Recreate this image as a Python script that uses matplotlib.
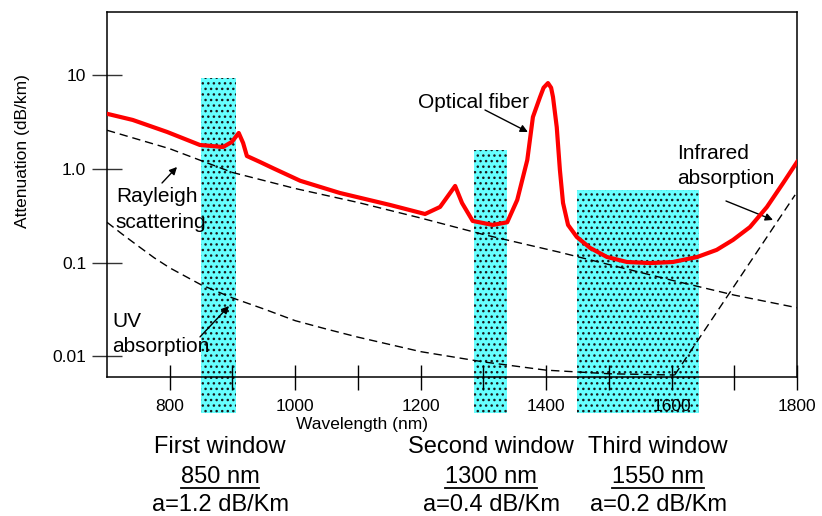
import numpy as np
import matplotlib
matplotlib.use('Agg')
import matplotlib.pyplot as plt
from matplotlib.lines import Line2D

plt.rcParams['font.family'] = ['Liberation Sans', 'DejaVu Sans']
plt.rcParams['hatch.linewidth'] = 1.0

# attenuation of the fibre (dB/km)
fiber_wl = [700, 741, 796, 848, 885, 899, 910, 917, 923, 944, 965, 1008, 1071,
            1151, 1207, 1231, 1255, 1266, 1283, 1315, 1338, 1354, 1370, 1379,
            1390, 1396, 1403, 1408, 1411, 1417, 1422, 1427, 1435, 1449, 1470,
            1497, 1529, 1566, 1602, 1641, 1672, 1698, 1725, 1752, 1778, 1800]
fiber_att = [3.9, 3.35, 2.49, 1.81, 1.72, 1.95, 2.43, 1.9, 1.38, 1.19, 1.02,
             0.75, 0.556, 0.414, 0.331, 0.394, 0.66, 0.434, 0.279, 0.253, 0.27,
             0.468, 1.25, 3.6, 5.8, 7.4, 8.3, 7.4, 5.9, 2.8, 0.98, 0.435, 0.253,
             0.188, 0.144, 0.115, 0.1016, 0.099, 0.1016, 0.115, 0.137, 0.175,
             0.24, 0.393, 0.711, 1.19]

rayleigh_wl = [700, 800, 900, 1000, 1100, 1200, 1300, 1420, 1600, 1700, 1800]
rayleigh_att = [2.6, 1.65, 0.92, 0.62, 0.44, 0.30, 0.20, 0.13, 0.065, 0.045, 0.033]

uv_wl = [700, 725, 750, 775, 800, 850, 900, 950, 1000, 1050, 1100, 1200, 1300,
         1400, 1500, 1605]
uv_att = [0.27, 0.2, 0.15, 0.113, 0.088, 0.058, 0.042, 0.032, 0.024, 0.0195,
          0.016, 0.0112, 0.0087, 0.0071, 0.0065, 0.0063]

ir_wl = [1605, 1797]
ir_att = [0.0063, 0.53]

# transmission windows
win_start = np.array([850, 1285, 1450])
win_end = np.array([905, 1338, 1643])
win_top = np.array([9.5, 1.6, 0.6])
win_bottom = 0.0025

win_names = ['First window', 'Second window', 'Third window']
win_nm = ['850 nm', '1300 nm', '1550 nm']
win_loss = ['a=1.2 dB/Km', 'a=0.4 dB/Km', 'a=0.2 dB/Km']
win_text_x = [220, 491, 658]

W, H = 822, 516
fig = plt.figure(figsize=(W / 100, H / 100), dpi=100)
ax = fig.add_axes([107 / W, 1 - 377 / H, 690 / W, 365 / H])

ax.bar(win_start, win_top - win_bottom, width=win_end - win_start,
       bottom=win_bottom, align='edge', color='#66FFFF', hatch='...',
       edgecolor='#1a1a1a', linewidth=0, clip_on=False, zorder=1)

ax.plot(rayleigh_wl, rayleigh_att, color='k', lw=1, dashes=(6, 3.5), zorder=3)
ax.plot(uv_wl, uv_att, color='k', lw=1, dashes=(6, 3.5), zorder=3)
ax.plot(ir_wl, ir_att, color='k', lw=1, dashes=(6, 3.5), zorder=3)
ax.plot(fiber_wl, fiber_att, color='#FF0000', lw=3, zorder=4,
        solid_joinstyle='round')

ax.set_yscale('log')
ax.set_xlim(700, 1800)
ax.set_ylim(0.006, 47.7)

ax.set_xticks(range(800, 1801, 100))
ax.set_xticklabels(['800', '', '1000', '', '1200', '', '1400', '', '1600', '', '1800'])
ax.set_yticks([0.01, 0.1, 1, 10])
ax.set_yticklabels(['0.01', '0.1', '1.0', '10'])
ax.minorticks_off()
ax.tick_params(axis='x', direction='inout', length=18, width=1, pad=6.5,
               labelsize=12.5, color='k')
ax.tick_params(axis='y', direction='inout', length=22, width=1, pad=4,
               labelsize=12.5, color='#333333')
for sp in ax.spines.values():
    sp.set_linewidth(1.1)

# labels on the curves
fs = 15
ax.text(714, 0.445, 'Rayleigh', fontsize=fs, va='baseline', zorder=5)
ax.text(714, 0.235, 'scattering', fontsize=fs, va='baseline', zorder=5)
ax.text(708, 0.0206, 'UV', fontsize=fs, va='baseline', zorder=5)
ax.text(708, 0.0111, 'absorption', fontsize=fs, va='baseline', zorder=5)
ax.text(1196, 4.5, 'Optical fiber', fontsize=fs, va='baseline', zorder=5)
ax.text(1609, 1.28, 'Infrared', fontsize=fs, va='baseline', zorder=5)
ax.text(1609, 0.693, 'absorption', fontsize=fs, va='baseline', zorder=5)

arrow = dict(arrowstyle='-|>', color='k', lw=1, mutation_scale=11,
             shrinkA=0, shrinkB=0)
ax.annotate('', xy=(811.6, 1.053), xytext=(787.7, 0.71), arrowprops=arrow)
ax.annotate('', xy=(894.5, 0.0344), xytext=(848.3, 0.0161), arrowprops=arrow)
ax.annotate('', xy=(1371, 2.49), xytext=(1302.6, 4.28), arrowprops=arrow)
ax.annotate('', xy=(1761.7, 0.286), xytext=(1686.8, 0.456), arrowprops=arrow)

fig.text(22 / W, 1 - 151 / H, 'Attenuation (dB/km)', rotation=90,
         fontsize=12.5, ha='center', va='center')
fig.text(362 / W, 1 - 424 / H, 'Wavelength (nm)', fontsize=12.5,
         ha='center', va='center')

renderer = fig.canvas.get_renderer()
for xc, name, nm, loss in zip(win_text_x, win_names, win_nm, win_loss):
    fig.text(xc / W, 1 - 453 / H, name, fontsize=17, ha='center', va='baseline')
    t = fig.text(xc / W, 1 - 483 / H, nm, fontsize=17, ha='center', va='baseline')
    bb = t.get_window_extent(renderer)
    # underline
    fig.add_artist(Line2D([bb.x0 / W, bb.x1 / W], [1 - 488 / H, 1 - 488 / H],
                          transform=fig.transFigure, color='k', lw=1.3))
    fig.text(xc / W, 1 - 511 / H, loss, fontsize=17, ha='center', va='baseline')

fig.savefig('out.png', dpi=100)
